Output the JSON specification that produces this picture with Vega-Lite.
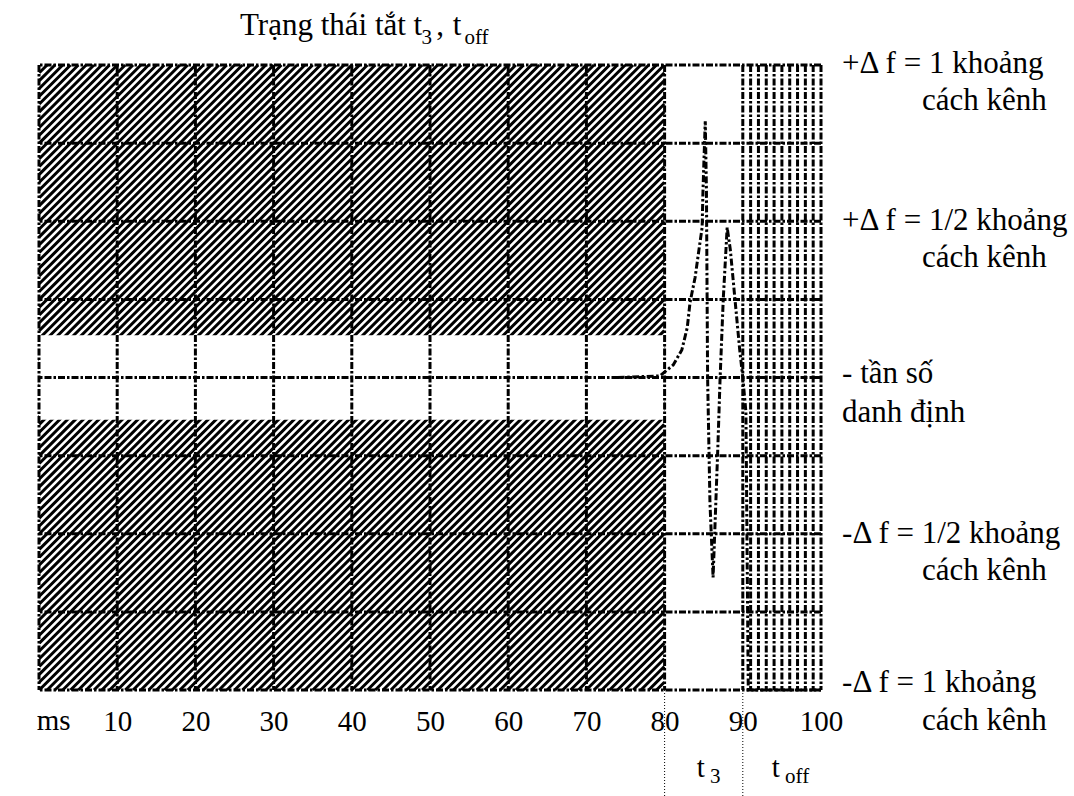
{
  "$schema": "https://vega.github.io/schema/vega-lite/v6.json",
  "width": 782,
  "height": 625,
  "autosize": {"type": "none"},
  "padding": {"left": 39, "top": 65, "right": 253, "bottom": 106},
  "background": "white",
  "config": {"view": {"stroke": null}, "font": "Liberation Serif"},
  "datasets": {
    "hatch": [{"x": 40, "y": 0}],
    "band": [{"x": 0, "x2": 80, "y": -0.135, "y2": 0.135}],
    "hgrid": [{"y": -1}, {"y": -0.75}, {"y": -0.5}, {"y": -0.25}, {"y": 0}, {"y": 0.25}, {"y": 0.5}, {"y": 0.75}, {"y": 1}],
    "vgrid": [{"x": 0}, {"x": 10}, {"x": 20}, {"x": 30}, {"x": 40}, {"x": 50}, {"x": 60}, {"x": 70}, {"x": 80}, {"x": 90}, {"x": 100}],
    "dense": [{"x": 91}, {"x": 92}, {"x": 93}, {"x": 94}, {"x": 95}, {"x": 96}, {"x": 97}, {"x": 98}, {"x": 99}],
    "curve": [
      {"x": 74, "y": 0}, {"x": 79.4, "y": 0.005}, {"x": 81.1, "y": 0.04}, {"x": 82.2, "y": 0.088},
      {"x": 82.9, "y": 0.16}, {"x": 83.25, "y": 0.24}, {"x": 83.9, "y": 0.32}, {"x": 84.4, "y": 0.41},
      {"x": 84.8, "y": 0.48}, {"x": 84.9, "y": 0.59}, {"x": 85.0, "y": 0.67}, {"x": 85.2, "y": 0.82},
      {"x": 85.35, "y": 0.6}, {"x": 85.4, "y": 0.4}, {"x": 85.5, "y": 0.0}, {"x": 85.8, "y": -0.4},
      {"x": 86.2, "y": -0.64}, {"x": 86.8, "y": -0.23}, {"x": 87.1, "y": 0.0}, {"x": 87.5, "y": 0.25},
      {"x": 88.0, "y": 0.48}, {"x": 88.4, "y": 0.41}, {"x": 89.6, "y": 0.09}, {"x": 90.0, "y": 0},
      {"x": 90.4, "y": -0.11}, {"x": 90.7, "y": -1}, {"x": 100, "y": -1}
    ],
    "guides": [{"x": 80, "y": -1, "y2": -1.34}, {"x": 90, "y": -1, "y2": -1.34}],
    "titleTexts": [
      {"x": 25.7, "y": 1.096, "t": "Trạng thái tắt t"},
      {"x": 50.8, "y": 1.096, "t": ","},
      {"x": 52.9, "y": 1.096, "t": "t"}
    ],
    "sideTexts": [
      {"x": 102.7, "y": 0.974, "t": "+Δ f = 1 khoảng"},
      {"x": 112.9, "y": 0.856, "t": "cách kênh"},
      {"x": 102.7, "y": 0.472, "t": "+Δ f = 1/2 khoảng"},
      {"x": 112.9, "y": 0.354, "t": "cách kênh"},
      {"x": 102.7, "y": -0.018, "t": "- tần số"},
      {"x": 102.7, "y": -0.142, "t": "danh định"},
      {"x": 102.7, "y": -0.53, "t": "-Δ f = 1/2 khoảng"},
      {"x": 112.9, "y": -0.648, "t": "cách kênh"},
      {"x": 102.7, "y": -1.006, "t": "-Δ f = 1 khoảng"},
      {"x": 112.9, "y": -1.128, "t": "cách kênh"}
    ],
    "texts": [
      {"x": -0.3, "y": -1.128, "t": "ms"},
      {"x": 84.1, "y": -1.279, "t": "t"},
      {"x": 93.7, "y": -1.279, "t": "t"}
    ],
    "subs": [
      {"x": 48.9, "y": 1.067, "t": "3"},
      {"x": 54.4, "y": 1.067, "t": "off"},
      {"x": 85.8, "y": -1.298, "t": "3"},
      {"x": 95.4, "y": -1.298, "t": "off"}
    ]
  },
  "layer": [
    {
      "data": {"name": "hatch"},
      "mark": {
        "type": "point",
        "shape": "M-1 -0.975L-0.975 -1M-1 -0.95L-0.95 -1M-1 -0.925L-0.925 -1M-1 -0.9L-0.9 -1M-1 -0.875L-0.875 -1M-1 -0.85L-0.85 -1M-1 -0.825L-0.825 -1M-1 -0.8L-0.8 -1M-1 -0.775L-0.775 -1M-1 -0.75L-0.75 -1M-1 -0.725L-0.725 -1M-1 -0.7L-0.7 -1M-1 -0.675L-0.675 -1M-1 -0.65L-0.65 -1M-1 -0.625L-0.625 -1M-1 -0.6L-0.6 -1M-1 -0.575L-0.575 -1M-1 -0.55L-0.55 -1M-1 -0.525L-0.525 -1M-1 -0.5L-0.5 -1M-1 -0.475L-0.475 -1M-1 -0.45L-0.45 -1M-1 -0.425L-0.425 -1M-1 -0.4L-0.4 -1M-1 -0.375L-0.375 -1M-1 -0.35L-0.35 -1M-1 -0.325L-0.325 -1M-1 -0.3L-0.3 -1M-1 -0.275L-0.275 -1M-1 -0.25L-0.25 -1M-1 -0.225L-0.225 -1M-1 -0.2L-0.2 -1M-1 -0.175L-0.175 -1M-1 -0.15L-0.15 -1M-1 -0.125L-0.125 -1M-1 -0.1L-0.1 -1M-1 -0.075L-0.075 -1M-1 -0.05L-0.05 -1M-1 -0.025L-0.025 -1M-1 0L0 -1M-1 0.025L0.025 -1M-1 0.05L0.05 -1M-1 0.075L0.075 -1M-1 0.1L0.1 -1M-1 0.125L0.125 -1M-1 0.15L0.15 -1M-1 0.175L0.175 -1M-1 0.2L0.2 -1M-1 0.225L0.225 -1M-1 0.25L0.25 -1M-1 0.275L0.275 -1M-1 0.3L0.3 -1M-1 0.325L0.325 -1M-1 0.35L0.35 -1M-1 0.375L0.375 -1M-1 0.4L0.4 -1M-1 0.425L0.425 -1M-1 0.45L0.45 -1M-1 0.475L0.475 -1M-1 0.5L0.5 -1M-1 0.525L0.525 -1M-1 0.55L0.55 -1M-1 0.575L0.575 -1M-1 0.6L0.6 -1M-1 0.625L0.625 -1M-1 0.65L0.65 -1M-1 0.675L0.675 -1M-1 0.7L0.7 -1M-1 0.725L0.725 -1M-1 0.75L0.75 -1M-1 0.775L0.775 -1M-1 0.8L0.8 -1M-1 0.825L0.825 -1M-1 0.85L0.85 -1M-1 0.875L0.875 -1M-1 0.9L0.9 -1M-1 0.925L0.925 -1M-1 0.95L0.95 -1M-1 0.975L0.975 -1M-1 1L1 -1M-0.975 1L1 -0.975M-0.95 1L1 -0.95M-0.925 1L1 -0.925M-0.9 1L1 -0.9M-0.875 1L1 -0.875M-0.85 1L1 -0.85M-0.825 1L1 -0.825M-0.8 1L1 -0.8M-0.775 1L1 -0.775M-0.75 1L1 -0.75M-0.725 1L1 -0.725M-0.7 1L1 -0.7M-0.675 1L1 -0.675M-0.65 1L1 -0.65M-0.625 1L1 -0.625M-0.6 1L1 -0.6M-0.575 1L1 -0.575M-0.55 1L1 -0.55M-0.525 1L1 -0.525M-0.5 1L1 -0.5M-0.475 1L1 -0.475M-0.45 1L1 -0.45M-0.425 1L1 -0.425M-0.4 1L1 -0.4M-0.375 1L1 -0.375M-0.35 1L1 -0.35M-0.325 1L1 -0.325M-0.3 1L1 -0.3M-0.275 1L1 -0.275M-0.25 1L1 -0.25M-0.225 1L1 -0.225M-0.2 1L1 -0.2M-0.175 1L1 -0.175M-0.15 1L1 -0.15M-0.125 1L1 -0.125M-0.1 1L1 -0.1M-0.075 1L1 -0.075M-0.05 1L1 -0.05M-0.025 1L1 -0.025M0 1L1 0M0.025 1L1 0.025M0.05 1L1 0.05M0.075 1L1 0.075M0.1 1L1 0.1M0.125 1L1 0.125M0.15 1L1 0.15M0.175 1L1 0.175M0.2 1L1 0.2M0.225 1L1 0.225M0.25 1L1 0.25M0.275 1L1 0.275M0.3 1L1 0.3M0.325 1L1 0.325M0.35 1L1 0.35M0.375 1L1 0.375M0.4 1L1 0.4M0.425 1L1 0.425M0.45 1L1 0.45M0.475 1L1 0.475M0.5 1L1 0.5M0.525 1L1 0.525M0.55 1L1 0.55M0.575 1L1 0.575M0.6 1L1 0.6M0.625 1L1 0.625M0.65 1L1 0.65M0.675 1L1 0.675M0.7 1L1 0.7M0.725 1L1 0.725M0.75 1L1 0.75M0.775 1L1 0.775M0.8 1L1 0.8M0.825 1L1 0.825M0.85 1L1 0.85M0.875 1L1 0.875M0.9 1L1 0.9M0.925 1L1 0.925M0.95 1L1 0.95M0.975 1L1 0.975",
        "size": 390625,
        "filled": false,
        "color": "black",
        "strokeWidth": 3,
        "opacity": 1,
        "strokeCap": "butt"
      },
      "encoding": {
        "x": {"field": "x", "type": "quantitative", "scale": {"domain": [0, 100], "nice": false, "zero": false},
          "axis": {"values": [10, 20, 30, 40, 50, 60, 70, 80, 90, 100], "grid": false, "ticks": false, "tickSize": 0, "domain": false, "title": null,
            "labelFont": "Liberation Serif", "labelFontSize": 29, "labelColor": "black", "labelPadding": 40, "labelBaseline": "alphabetic",
            "labelFlush": false, "labelOverlap": false}},
        "y": {"field": "y", "type": "quantitative", "scale": {"domain": [-1, 1], "nice": false, "zero": false}, "axis": null}
      }
    },
    {
      "data": {"name": "band"},
      "mark": {"type": "rect", "color": "white", "opacity": 1},
      "encoding": {
        "x": {"field": "x", "type": "quantitative", "scale": {"domain": [0, 100], "nice": false, "zero": false}},
        "x2": {"field": "x2"},
        "y": {"field": "y", "type": "quantitative", "scale": {"domain": [-1, 1], "nice": false, "zero": false}, "axis": null},
        "y2": {"field": "y2"}
      }
    },
    {
      "data": {"name": "hgrid"},
      "mark": {"type": "rule", "color": "black", "strokeWidth": 3, "strokeDash": [7, 2, 2.5, 2]},
      "encoding": {
        "y": {"field": "y", "type": "quantitative", "scale": {"domain": [-1, 1], "nice": false, "zero": false}, "axis": null}
      }
    },
    {
      "data": {"name": "vgrid"},
      "mark": {"type": "rule", "color": "black", "strokeWidth": 3, "strokeDash": [7, 2, 2.5, 2]},
      "encoding": {
        "x": {"field": "x", "type": "quantitative", "scale": {"domain": [0, 100], "nice": false, "zero": false}}
      }
    },
    {
      "data": {"name": "dense"},
      "mark": {"type": "rule", "color": "black", "strokeWidth": 3, "strokeDash": [7, 2, 2.5, 2]},
      "encoding": {
        "x": {"field": "x", "type": "quantitative", "scale": {"domain": [0, 100], "nice": false, "zero": false}}
      }
    },
    {
      "data": {"name": "curve"},
      "mark": {"type": "line", "color": "black", "strokeWidth": 3, "strokeDash": [7, 2.5, 2.5, 2.5]},
      "encoding": {
        "x": {"field": "x", "type": "quantitative", "scale": {"domain": [0, 100], "nice": false, "zero": false}},
        "y": {"field": "y", "type": "quantitative", "scale": {"domain": [-1, 1], "nice": false, "zero": false}, "axis": null}
      }
    },
    {
      "data": {"name": "guides"},
      "mark": {"type": "rule", "color": "black", "strokeWidth": 1, "strokeDash": [1, 2]},
      "encoding": {
        "x": {"field": "x", "type": "quantitative", "scale": {"domain": [0, 100], "nice": false, "zero": false}},
        "y": {"field": "y", "type": "quantitative", "scale": {"domain": [-1, 1], "nice": false, "zero": false}, "axis": null},
        "y2": {"field": "y2"}
      }
    },
    {
      "data": {"name": "titleTexts"},
      "mark": {"type": "text", "font": "Liberation Serif", "fontSize": 31, "align": "left", "baseline": "alphabetic", "color": "black"},
      "encoding": {
        "x": {"field": "x", "type": "quantitative", "scale": {"domain": [0, 100], "nice": false, "zero": false}},
        "y": {"field": "y", "type": "quantitative", "scale": {"domain": [-1, 1], "nice": false, "zero": false}, "axis": null},
        "text": {"field": "t"}
      }
    },
    {
      "data": {"name": "sideTexts"},
      "mark": {"type": "text", "font": "Liberation Serif", "fontSize": 31, "align": "left", "baseline": "alphabetic", "color": "black"},
      "encoding": {
        "x": {"field": "x", "type": "quantitative", "scale": {"domain": [0, 100], "nice": false, "zero": false}},
        "y": {"field": "y", "type": "quantitative", "scale": {"domain": [-1, 1], "nice": false, "zero": false}, "axis": null},
        "text": {"field": "t"}
      }
    },
    {
      "data": {"name": "texts"},
      "mark": {"type": "text", "font": "Liberation Serif", "fontSize": 29, "align": "left", "baseline": "alphabetic", "color": "black"},
      "encoding": {
        "x": {"field": "x", "type": "quantitative", "scale": {"domain": [0, 100], "nice": false, "zero": false}},
        "y": {"field": "y", "type": "quantitative", "scale": {"domain": [-1, 1], "nice": false, "zero": false}, "axis": null},
        "text": {"field": "t"}
      }
    },
    {
      "data": {"name": "subs"},
      "mark": {"type": "text", "font": "Liberation Serif", "fontSize": 21, "align": "left", "baseline": "alphabetic", "color": "black"},
      "encoding": {
        "x": {"field": "x", "type": "quantitative", "scale": {"domain": [0, 100], "nice": false, "zero": false}},
        "y": {"field": "y", "type": "quantitative", "scale": {"domain": [-1, 1], "nice": false, "zero": false}, "axis": null},
        "text": {"field": "t"}
      }
    }
  ]
}
